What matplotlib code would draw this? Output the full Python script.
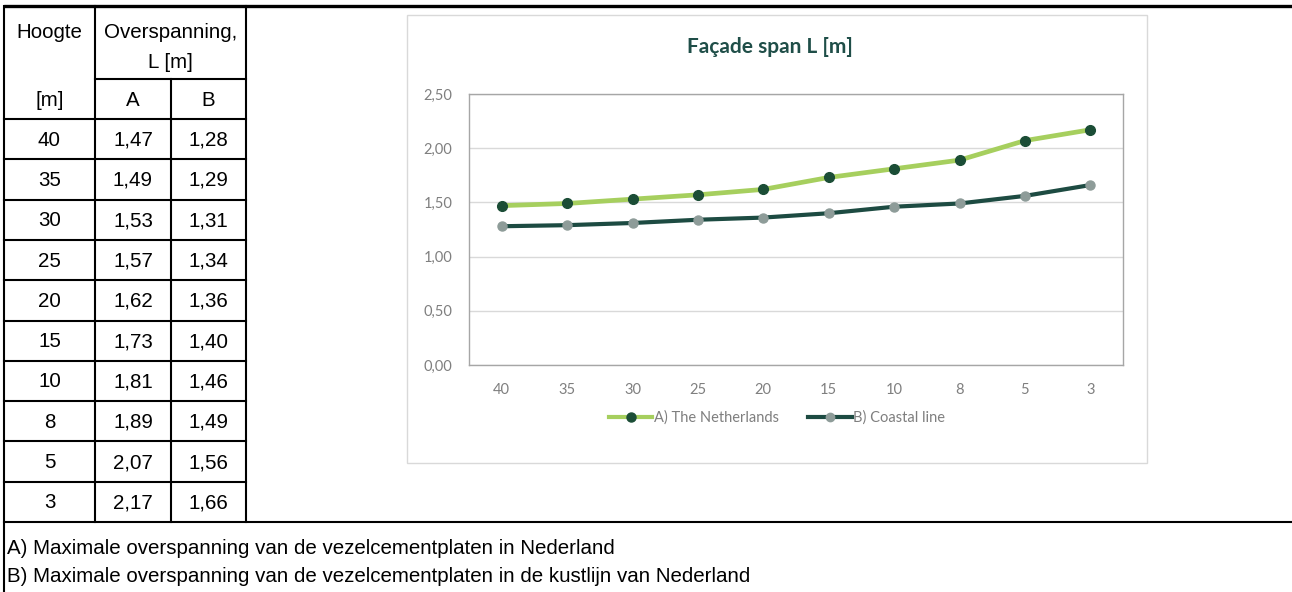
import matplotlib
matplotlib.use("Agg")
import matplotlib.pyplot as plt
from matplotlib.patches import Rectangle
from matplotlib.lines import Line2D

# ---- data ----
heights = ['40', '35', '30', '25', '20', '15', '10', '8', '5', '3']
span_a = [1.47, 1.49, 1.53, 1.57, 1.62, 1.73, 1.81, 1.89, 2.07, 2.17]
span_b = [1.28, 1.29, 1.31, 1.34, 1.36, 1.40, 1.46, 1.49, 1.56, 1.66]
y_ticks = [0.0, 0.5, 1.0, 1.5, 2.0, 2.5]
series_names = ['A) The Netherlands', 'B) Coastal line']
chart_title = 'Façade span L [m]'
footnotes = ['A) Maximale overspanning van de vezelcementplaten in Nederland',
             'B) Maximale overspanning van de vezelcementplaten in de kustlijn van Nederland']
header_col1 = ['Hoogte', '[m]']
header_span = ['Overspanning,', 'L [m]']
header_ab = ['A', 'B']

def nl(v):
    return f"{v:.2f}".replace('.', ',')

W, H = 1292, 592
fig = plt.figure(figsize=(W / 100, H / 100), dpi=100)
fig.patch.set_facecolor('white')

# background axes in pixel coordinates
bg = fig.add_axes([0, 0, 1, 1])
bg.set_xlim(0, W)
bg.set_ylim(H, 0)
bg.axis('off')

tfont = dict(family=['Liberation Sans', 'DejaVu Sans'], fontsize=14.8, color='black')
lw_t = 1.5
col_x = [4, 95, 171, 246]
row_top = 119
row_h = (522 - 119) / 10.0
sub_y = 79
top_y = 6

# borders
bg.plot([4, W], [top_y, top_y], color='black', lw=2.4, solid_capstyle='butt')
bg.plot([4, 4], [top_y, H], color='black', lw=lw_t)
bg.plot([95, 95], [top_y, 522], color='black', lw=lw_t)
bg.plot([246, 246], [top_y, 522], color='black', lw=lw_t)
bg.plot([171, 171], [sub_y, 522], color='black', lw=lw_t)
bg.plot([95, 246], [sub_y, sub_y], color='black', lw=lw_t)
for k in range(10):
    y = row_top + k * row_h
    bg.plot([4, 246], [y, y], color='black', lw=lw_t)
bg.plot([4, W], [522, 522], color='black', lw=lw_t)

# header texts
c1 = (col_x[0] + col_x[1]) / 2
c2 = (col_x[1] + col_x[2]) / 2
c3 = (col_x[2] + col_x[3]) / 2
c23 = (col_x[1] + col_x[3]) / 2
bg.text(c1, 33, header_col1[0], ha='center', va='center', **tfont)
bg.text(c1, 100, header_col1[1], ha='center', va='center', **tfont)
bg.text(c23, 33, header_span[0], ha='center', va='center', **tfont)
bg.text(c23, 63, header_span[1], ha='center', va='center', **tfont)
bg.text(c2, 100, header_ab[0], ha='center', va='center', **tfont)
bg.text(c3, 100, header_ab[1], ha='center', va='center', **tfont)

for k, (h, a, b) in enumerate(zip(heights, span_a, span_b)):
    yc = row_top + (k + 0.5) * row_h + 1
    bg.text(c1, yc, h, ha='center', va='center', **tfont)
    bg.text(c2, yc, nl(a), ha='center', va='center', **tfont)
    bg.text(c3, yc, nl(b), ha='center', va='center', **tfont)

bg.text(7, 548, footnotes[0], ha='left', va='center', **tfont)
bg.text(7, 577, footnotes[1], ha='left', va='center', **tfont)

# chart outer frame
bg.add_patch(Rectangle((407, 15), 740, 448, fill=False, edgecolor='#d9d9d9', lw=1))

# ---- chart ----
px0, px1, py0, py1 = 469, 1123, 94, 365
ax = fig.add_axes([px0 / W, (H - py1) / H, (px1 - px0) / W, (py1 - py0) / H])
x = list(range(len(heights)))
col_a_line = '#a6cf5e'
col_a_mark = '#1b4d36'
col_b_line = '#1d4b42'
col_b_mark = '#8e9c99'
ax.plot(x, span_b, color=col_b_line, lw=3.0, marker='o', ms=6.5,
        mfc=col_b_mark, mec=col_b_mark, zorder=3)
ax.plot(x, span_a, color=col_a_line, lw=3.4, marker='o', ms=7,
        mfc=col_a_mark, mec=col_a_mark, zorder=4)
ax.set_xlim(-0.5, len(heights) - 0.5)
ax.set_ylim(y_ticks[0], y_ticks[-1])
ax.set_yticks(y_ticks)
ax.set_yticklabels([nl(v) for v in y_ticks])
ax.set_xticks(x)
ax.set_xticklabels(heights)
ax.grid(axis='y', color='#d9d9d9', lw=1)
ax.set_axisbelow(True)
for s in ax.spines.values():
    s.set_color('#a6a6a6')
    s.set_linewidth(1)
lfont = ['Lato', 'DejaVu Sans']
ax.tick_params(length=0, colors='#7f7f7f', labelsize=10.5)
ax.tick_params(axis='y', pad=12)
ax.tick_params(axis='x', pad=13)
for lab in ax.get_xticklabels() + ax.get_yticklabels():
    lab.set_family(lfont)

fig.text(770 / W, 1 - 47 / H, chart_title, ha='center', va='center',
         family=lfont, fontweight='bold', fontsize=15, color='#1f4e48')

handles = [Line2D([], [], color=col_a_line, lw=3, marker='o', ms=6.5, mfc=col_a_mark, mec=col_a_mark),
           Line2D([], [], color=col_b_line, lw=3, marker='o', ms=6, mfc=col_b_mark, mec=col_b_mark)]
leg = fig.legend(handles, series_names, loc='center', bbox_to_anchor=(777 / W, 1 - 418 / H),
                 ncol=2, frameon=False, handlelength=3.0, handletextpad=0.1, columnspacing=2.0,
                 prop=dict(family=lfont, size=10.5))
for t in leg.get_texts():
    t.set_color('#7f7f7f')

fig.savefig('out.png', dpi=100)
